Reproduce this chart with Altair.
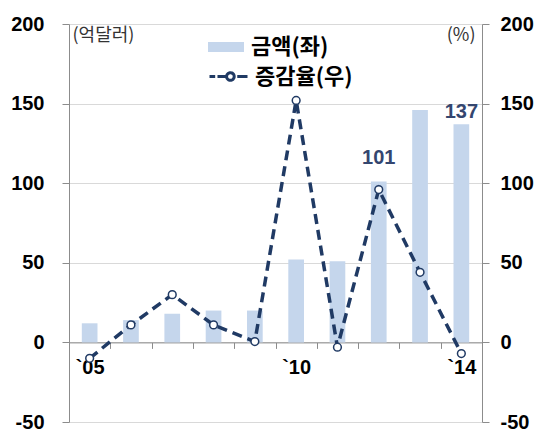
import altair as alt
import pandas as pd

# Annual amount (100 million USD, left axis) and growth rate (%, right axis)
years = ["2005", "2006", "2007", "2008", "2009", "2010", "2011", "2012", "2013", "2014"]
amount = [12, 14, 18, 20, 20, 52, 51, 101, 146, 137]
rate = [-10, 11, 30, 11, 0.5, 152, -3, 96, 44, -7]
year_labels = {"2005": "`05", "2010": "`10", "2014": "`14"}
labelled_years = ["2012", "2014"]
y_ticks = [-50, 0, 50, 100, 150, 200]

df = pd.DataFrame({
    "year": years,
    "amount": amount,
    "rate": rate,
    "bar_series": "금액(좌)",
    "line_series": "증감율(우)",
})

W, H = 413, 398
NUM_FONT = "Liberation Sans"
KR_FONT = "Noto Sans CJK KR"
BAR = "#c5d6ec"
NAVY = "#203a64"
LABEL = "#34466f"
AXIS_GREY = "#8c8c8c"
GRID = "#d9d9d9"
DOMAIN = [-50, 200]

label_expr = " : ".join(f"datum.value == '{k}' ? '{v}'" for k, v in year_labels.items()) + " : ''"
# plain hyphen for negative tick labels
num_expr = "'' + datum.value"

x_enc = alt.X(
    "year:N", sort=years, title=None,
    scale=alt.Scale(paddingInner=0, paddingOuter=0),
    axis=alt.Axis(
        orient="bottom", offset=-H * 50 / 250, labelExpr=label_expr, labelAngle=0,
        labelFont=NUM_FONT, labelFontSize=20, labelFontWeight="bold", labelColor="black",
        labelPadding=9, tickBand="extent", tickSize=6, tickColor=AXIS_GREY,
        domainColor=AXIS_GREY, grid=False,
    ),
)

y_scale = alt.Scale(domain=DOMAIN, nice=False, zero=False)

bars = alt.Chart(df).mark_bar(width=alt.RelativeBandSize(0.38)).encode(
    x=x_enc,
    y=alt.Y("amount:Q", scale=y_scale, axis=alt.Axis(
        values=y_ticks, labelExpr=num_expr,
        title="(억달러)", titleAngle=0, titleX=3, titleY=11,
        titleAlign="left", titleBaseline="middle", titleFont=KR_FONT, titleFontSize=18,
        titleFontWeight="normal", titleColor="#333333",
        labelFont=NUM_FONT, labelFontSize=20, labelFontWeight="bold", labelColor="black",
        labelPadding=18, tickSize=7, tickColor=AXIS_GREY, domainColor=AXIS_GREY,
        grid=True, gridColor=GRID,
    )),
    color=alt.Color("bar_series:N", scale=alt.Scale(range=[BAR]), legend=alt.Legend(
        title=None, orient="none", legendX=139, legendY=5,
        symbolType="M-1,-0.28H1V0.28H-1Z", symbolSize=1296, symbolStrokeWidth=0,
        symbolOpacity=1, labelFont=KR_FONT, labelFontSize=22, labelFontWeight="bold",
        labelColor="black", labelOffset=7, padding=0,
    )),
)

# legend glyph: short dash, dash, hollow marker, dash
line_symbol = ("M-1,0H-0.7M-0.58,0H-0.14M0.46,0H1"
               "M-0.1,0A0.2,0.2 0 1,0 0.3,0A0.2,0.2 0 1,0 -0.1,0")

line = alt.Chart(df).mark_line(strokeWidth=3.5, strokeDash=[10, 6]).encode(
    x=x_enc,
    y=alt.Y("rate:Q", scale=y_scale, axis=alt.Axis(
        orient="right", values=y_ticks, labelExpr=num_expr,
        title="(%)", titleAngle=0, titleX=-7, titleY=11,
        titleAlign="right", titleBaseline="middle", titleFont=KR_FONT, titleFontSize=18,
        titleFontWeight="normal", titleColor="#333333",
        labelFont=NUM_FONT, labelFontSize=20, labelFontWeight="bold", labelColor="black",
        labelPadding=11, tickSize=7, tickColor=AXIS_GREY, domainColor=AXIS_GREY,
        grid=False,
    )),
    stroke=alt.Stroke("line_series:N", scale=alt.Scale(range=[NAVY]), legend=alt.Legend(
        title=None, orient="none", legendX=139, legendY=32,
        symbolType=line_symbol, symbolSize=1444, symbolStrokeWidth=3,
        symbolFillColor="white", symbolDash=[1, 0],
        labelFont=KR_FONT, labelFontSize=22, labelFontWeight="bold",
        labelColor="black", labelOffset=6, padding=0,
    )),
)

points = alt.Chart(df).mark_point(
    filled=True, fill="white", stroke=NAVY, strokeWidth=1.5, size=60, opacity=1
).encode(
    x=x_enc,
    y=alt.Y("rate:Q", scale=y_scale, axis=None),
)

# Value labels above the last bars
label_dy = {"2012": -18, "2014": -6}
texts = [
    alt.Chart(df).transform_filter(alt.datum.year == yr).mark_text(
        baseline="alphabetic", dy=label_dy[yr], font=NUM_FONT, fontSize=20,
        fontWeight="bold", color=LABEL,
    ).encode(
        x=x_enc,
        y=alt.Y("amount:Q", scale=y_scale, axis=None),
        text="amount:Q",
    )
    for yr in labelled_years
]

chart = alt.layer(bars, line, points, *texts).resolve_scale(
    y="independent"
).properties(
    width=W, height=H,
    autosize=alt.AutoSizeParams(type="none"),
    padding={"left": 69, "top": 24, "right": 53, "bottom": 10},
    background="white",
).configure_view(stroke=None)

chart.save("out.html", embed_options={"renderer": "svg", "actions": False})
